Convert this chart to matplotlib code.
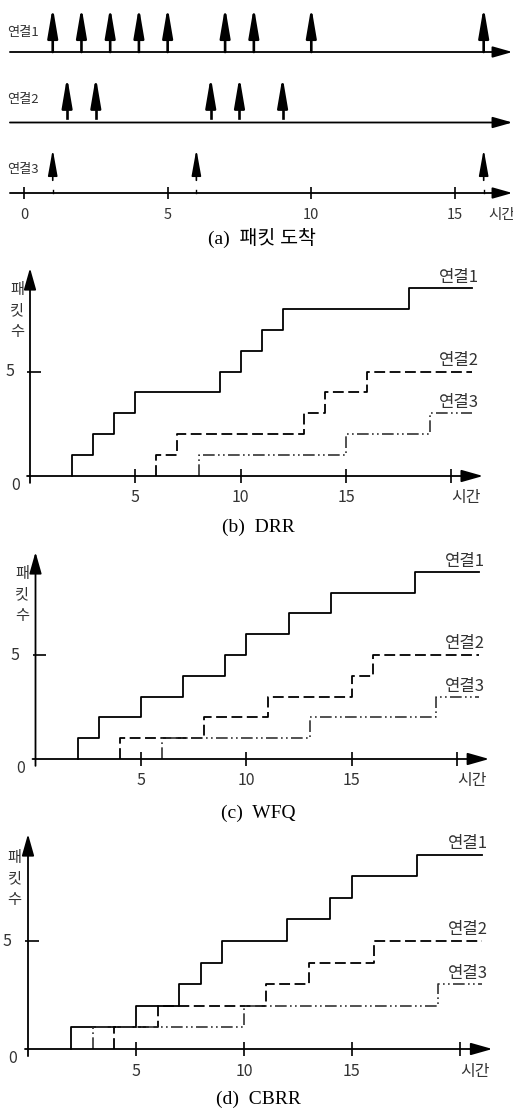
import numpy as np
import matplotlib
matplotlib.use('Agg')
import matplotlib.pyplot as plt

plt.rcParams['font.family'] = ['Noto Sans CJK KR', 'DejaVu Sans']

W, H = 513, 1109

# (a) packet arrival times per connection
arr_1 = [1, 2, 3, 4, 5, 7, 8, 10, 16]
arr_2 = [1.5, 2.5, 6.5, 7.5, 9]
arr_3 = [1, 6, 16]

# service times (cumulative packet count steps up by one at each time)
drr_1 = [2, 3, 4, 5, 9, 10, 11, 12, 18]
drr_2 = [6, 7, 13, 14, 16]
drr_3 = [8, 15, 19]
wfq_1 = [2, 3, 5, 7, 9, 10, 12, 14, 18]
wfq_2 = [4, 8, 11, 15, 16]
wfq_3 = [6, 13, 19]
cbrr_1 = [2, 5, 7, 8, 9, 12, 14, 15, 18]
cbrr_2 = [4, 6, 11, 13, 16]
cbrr_3 = [3, 10, 19]
t_end = 21

names = ['연결1', '연결2', '연결3']
captions = ['(a)  패킷 도착', '(b)  DRR', '(c)  WFQ', '(d)  CBRR']
cap_font = ['Liberation Serif', 'Noto Sans CJK KR']

fig = plt.figure(figsize=(W / 100, H / 100), dpi=100)


def panel(top, bottom, x0, xu, y0, yu):
    # axes spanning a pixel band, data scaled so that x0/y0 pixels are the origin
    ax = fig.add_axes([0, 1 - bottom / H, 1, (bottom - top) / H])
    ax.set_xlim(-x0 / xu, (W - x0) / xu)
    ax.set_ylim((y0 - bottom) / yu, (y0 - top) / yu)
    ax.axis('off')
    return ax


def arrow(ax, x1, y1, x2, y2, lw=1.3, ms=20, hl=0.6, hw=0.17, color='k'):
    ax.annotate('', xy=(x2, y2), xytext=(x1, y1), annotation_clip=False,
                arrowprops=dict(arrowstyle=f'-|>,head_length={hl},head_width={hw}',
                                lw=lw, color=color, mutation_scale=ms,
                                shrinkA=0, shrinkB=0))


def steps(ax, times, **kw):
    n = np.arange(1, len(times) + 1)
    x = [times[0]] + list(times) + [t_end]
    y = [0] + list(n) + [n[-1]]
    ax.step(x, y, where='post', **kw)


# ---- (a) arrivals
ax = panel(0, 250, 24, 28.73, 193, 70.5)
for row in (2, 1, 0):
    arrow(ax, -0.49, row, 17.0, row, lw=1.3, ms=20)
for t in arr_1:
    arrow(ax, t, 2, t, 2.64, lw=1.9, ms=18, hl=1.0, hw=0.17)
for t in arr_2:
    arrow(ax, t, 1.27, t, 1.65, lw=1.9, ms=18, hl=1.0, hw=0.17)
    ax.plot([t, t], [1.057, 1.17], color='k', lw=1.9)
for t in arr_3:
    arrow(ax, t, 0.18, t, 0.62, lw=1.2, ms=16, hl=1.0, hw=0.18)
    ax.plot([t, t], [0, 0.04], color='k', lw=1.0)
ax.vlines([0, 5, 10, 15], -0.085, 0.085, color='k', lw=1.2)
for v in [0, 5, 10, 15]:
    ax.text(v, -0.31, str(v), ha='center', va='center', fontsize=10.5, color='#333')
ax.text(16.15, -0.31, '시간', ha='left', va='center', fontsize=10.5, color='#333')
for row, lab in zip((2.28, 1.33, 0.33), names):
    ax.text(-0.58, row, lab, ha='left', va='center', fontsize=9.5, color='#333')
fig.text(262 / W, 1 - 238 / H, captions[0], ha='center', va='center',
         fontsize=14, family=cap_font)

# ---- (b)-(d) cumulative packets
specs = [
    (250, 532, 30, 21.07, 476, 20.9, drr_1, drr_2, drr_3, 527),
    (532, 818, 35.5, 21.1, 759, 20.8, wfq_1, wfq_2, wfq_3, 813),
    (818, 1109, 28, 21.6, 1049, 21.6, cbrr_1, cbrr_2, cbrr_3, 1099),
]
for i, (top, bot, x0, xu, y0, yu, s1, s2, s3, cy) in enumerate(specs):
    ax = panel(top, bot, x0, xu, y0, yu)
    arrow(ax, -0.14, 0, 21.5, 0, lw=1.3, ms=22)
    arrow(ax, 0, -0.33, 0, 9.95, lw=1.3, ms=22)
    ax.vlines([5, 10, 15, 20], -0.33, 0.33, color='k', lw=1.2)
    ax.hlines(5, -0.14, 0.5, color='k', lw=1.2)
    steps(ax, s1, color='k', lw=1.3)
    steps(ax, s2, color='k', lw=1.3, linestyle=(0, (6, 2.5)))
    steps(ax, s3, color='#333', lw=1.2, linestyle=(0, (7, 2, 1, 2, 1, 2)))
    for v in [5, 10, 15]:
        ax.text(v, -1.05, str(v), ha='center', va='center', fontsize=11.5, color='#333')
    ax.text(20.7, -1.05, '시간', ha='center', va='center', fontsize=11.5, color='#333')
    ax.text(-0.7, -0.45, '0', ha='center', va='center', fontsize=11.5, color='#333')
    ax.text(-0.95, 5, '5', ha='center', va='center', fontsize=11.5, color='#333')
    ax.text(-0.62, 7.9, '패\n킷\n수', ha='center', va='center', fontsize=11,
            linespacing=1.3, color='#333')
    for yy, lab in zip((9.5, 5.55, 3.5), names):
        ax.text(20.35, yy, lab, ha='center', va='center', fontsize=12, color='#333')
    fig.text(258 / W, 1 - cy / H, captions[i + 1], ha='center', va='center',
             fontsize=14, family=cap_font)

fig.savefig('out.png', dpi=100)
